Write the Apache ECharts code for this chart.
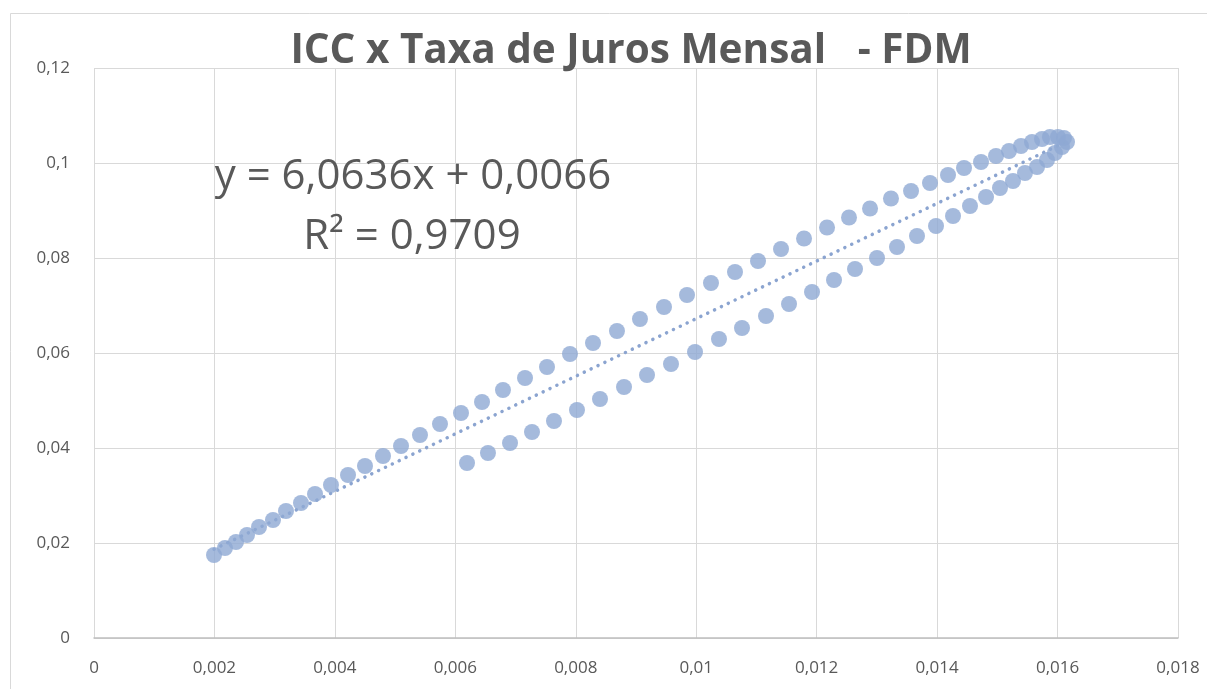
<!DOCTYPE html>
<html>
<head>
    <meta charset="utf-8">
    <title>ICC x Taxa de Juros Mensal - FDM</title>
</head>
<body style="margin:0;background-color:#fff;">
    <div id="main" style="width:1207px;height:689px;"></div>

    <script src="https://cdn.jsdelivr.net/npm/echarts@6/dist/echarts.min.js"></script>
    <script type="text/javascript">
        // taxa de juros mensal (x) / ICC (y) - ramo superior
        var upperX = [0.001993, 0.002175, 0.002358, 0.002541, 0.00274, 0.002972, 0.003188, 0.003437, 0.00367, 0.003935,
            0.004218, 0.0045, 0.004799, 0.005098, 0.005413, 0.005745, 0.006094, 0.006443, 0.006791, 0.007157,
            0.007522, 0.007904, 0.008286, 0.008684, 0.009066, 0.009465, 0.009847, 0.010245, 0.010644, 0.011026,
            0.011408, 0.01179, 0.012172, 0.012537, 0.012886, 0.013234, 0.013567, 0.013882, 0.014181, 0.014447,
            0.014729, 0.014978, 0.015194, 0.015393, 0.015576, 0.015742, 0.015874, 0.016007, 0.016107];
        var upperY = [0.01747, 0.01895, 0.02021, 0.02168, 0.02337, 0.02484, 0.02674, 0.02842, 0.03032, 0.03221,
            0.03432, 0.03621, 0.03832, 0.04042, 0.04274, 0.04505, 0.04737, 0.04968, 0.05221, 0.05474,
            0.05705, 0.05979, 0.06211, 0.06463, 0.06716, 0.06968, 0.07221, 0.07474, 0.07705, 0.07937,
            0.08189, 0.08411, 0.08642, 0.08853, 0.09042, 0.09253, 0.09411, 0.09579, 0.09747, 0.09895,
            0.10021, 0.10147, 0.10253, 0.10358, 0.10442, 0.10505, 0.10547, 0.10547, 0.10526];
        // ramo inferior
        var lowerX = [0.006194, 0.006542, 0.006908, 0.007273, 0.007638, 0.00802, 0.008402, 0.008801, 0.009183, 0.009581,
            0.00998, 0.010378, 0.01076, 0.011159, 0.011541, 0.011923, 0.012288, 0.012637, 0.013002, 0.013334,
            0.013666, 0.013982, 0.014264, 0.014546, 0.014812, 0.015044, 0.01526, 0.015459, 0.015659, 0.015825,
            0.015957, 0.016074, 0.016157];
        var lowerY = [0.03684, 0.03895, 0.04105, 0.04337, 0.04568, 0.048, 0.05032, 0.05284, 0.05537, 0.05768,
            0.06021, 0.06295, 0.06526, 0.06779, 0.07032, 0.07284, 0.07537, 0.07768, 0.08, 0.08232,
            0.08463, 0.08674, 0.08884, 0.09095, 0.09284, 0.09474, 0.09621, 0.09789, 0.09916, 0.10063,
            0.10211, 0.10337, 0.10442];

        // linha de tendência (Excel)
        var slope = 6.0636;
        var intercept = 0.0066;
        var r2 = 0.9709;

        var titleText = 'ICC x Taxa de Juros Mensal   - FDM';

        var points = [];
        upperX.forEach(function (x, i) { points.push([x, upperY[i]]); });
        lowerX.forEach(function (x, i) { points.push([x, lowerY[i]]); });

        var allX = upperX.concat(lowerX);
        var xMin = Math.min.apply(null, allX);
        var xMax = Math.max.apply(null, allX);
        var trend = [[xMin, slope * xMin + intercept], [xMax, slope * xMax + intercept]];

        function br(v) {
            return String(+v.toFixed(4)).replace('.', ',');
        }

        var myChart = echarts.init(document.getElementById('main'));

        var labelStyle = { color: '#595959', fontSize: 17, fontFamily: 'Open Sans' };

        var option = {
            backgroundColor: '#fff',
            animation: false,
            title: {
                text: titleText,
                left: 626,
                textAlign: 'center',
                top: 26,
                textStyle: { color: '#595959', fontSize: 40.5, fontWeight: 'bold', fontFamily: 'Open Sans' }
            },
            grid: { left: 94, right: 29, top: 68, bottom: 51 },
            xAxis: {
                type: 'value',
                min: 0, max: 0.018, interval: 0.002,
                axisLine: { show: true, onZero: false, lineStyle: { color: '#BFBFBF', width: 1.5 } },
                axisTick: { show: false },
                splitLine: { show: true, lineStyle: { color: '#D9D9D9', width: 1 } },
                axisLabel: Object.assign({ margin: 22, formatter: br }, labelStyle)
            },
            yAxis: {
                type: 'value',
                min: 0, max: 0.12, interval: 0.02,
                axisLine: { show: false },
                axisTick: { show: false },
                splitLine: { show: true, lineStyle: { color: '#D9D9D9', width: 1 } },
                axisLabel: Object.assign({ margin: 24, formatter: br }, labelStyle)
            },
            graphic: [
                {
                    type: 'rect', silent: true, z: -1,
                    shape: { x: 10.5, y: 13.5, width: 1400, height: 900 },
                    style: { fill: 'none', stroke: '#D9D9D9', lineWidth: 1 }
                },
                {
                    type: 'text', x: 413, y: 177, z: 10,
                    style: {
                        text: 'y = ' + br(slope) + 'x + ' + br(intercept),
                        fill: '#595959', font: '42px "Open Sans"', align: 'center', verticalAlign: 'middle'
                    }
                },
                {
                    type: 'text', x: 412, y: 237, z: 10,
                    style: {
                        text: 'R² = ' + br(r2),
                        fill: '#595959', font: '42px "Open Sans"', align: 'center', verticalAlign: 'middle'
                    }
                }
            ],
            series: [
                {
                    name: 'ICC',
                    type: 'scatter',
                    symbolSize: 16,
                    itemStyle: { color: '#8FA9D3' },
                    data: points,
                    z: 3
                },
                {
                    name: 'Tendência',
                    type: 'line',
                    showSymbol: false,
                    symbol: 'none',
                    data: trend,
                    lineStyle: { color: '#8BA4D0', width: 3.5, type: [0.1, 7.5], cap: 'round' },
                    z: 2
                }
            ]
        };

        myChart.setOption(option);
    </script>
</body>
</html>
